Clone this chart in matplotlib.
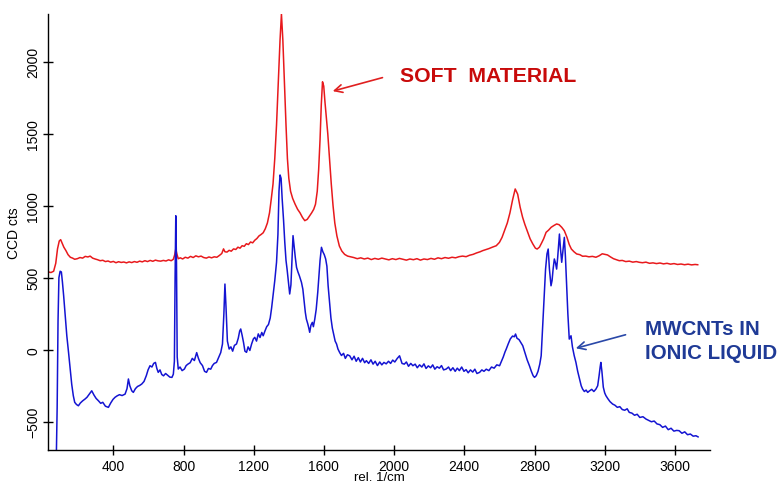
#!/usr/bin/env python3
"""Raman spectra: soft material vs MWCNTs in ionic liquid."""

import matplotlib
matplotlib.use("Agg")
import matplotlib.pyplot as plt

plt.rcParams["font.family"] = ["Liberation Sans", "DejaVu Sans"]

# soft material (red trace)
RED_X = [30, 45, 60, 72, 82, 92, 100, 108, 118, 130, 142, 155, 168, 180, 195, 210, 225, 240, 255, 268,
         282, 296, 310, 325, 340, 355, 370, 385, 400, 415, 430, 445, 460, 475, 490, 505, 520, 535, 550, 565,
         580, 595, 610, 625, 640, 655, 670, 685, 700, 715, 730, 742, 750, 756, 762, 770, 782, 795, 810, 825,
         840, 855, 870, 885, 900, 915, 930, 945, 960, 975, 990, 1005, 1018, 1028, 1036, 1048, 1060, 1072, 1085, 1098,
         1110, 1122, 1134, 1146, 1158, 1170, 1182, 1194, 1206, 1218, 1230, 1242, 1254, 1266, 1278, 1290, 1300, 1310, 1320, 1330,
         1340, 1350, 1358, 1366, 1375, 1384, 1392, 1400, 1410, 1422, 1436, 1450, 1464, 1478, 1491, 1505, 1518, 1530, 1542, 1552,
         1562, 1570, 1578, 1585, 1592, 1599, 1606, 1614, 1622, 1632, 1642, 1652, 1662, 1674, 1688, 1702, 1718, 1735, 1752, 1770,
         1790, 1810, 1830, 1850, 1870, 1890, 1910, 1930, 1950, 1970, 1990, 2010, 2030, 2050, 2070, 2090, 2110, 2130, 2150, 2170,
         2190, 2210, 2230, 2250, 2270, 2290, 2310, 2330, 2350, 2370, 2390, 2410, 2430, 2450, 2470, 2490, 2505, 2520, 2540, 2560,
         2582, 2600, 2615, 2629, 2645, 2660, 2675, 2690, 2704, 2718, 2732, 2745, 2760, 2775, 2790, 2805, 2815, 2828, 2840, 2852,
         2866, 2880, 2895, 2910, 2926, 2940, 2955, 2970, 2985, 2998, 3010, 3025, 3040, 3058, 3074, 3092, 3110, 3130, 3150, 3168,
         3186, 3200, 3216, 3232, 3250, 3266, 3283, 3300, 3320, 3340, 3360, 3380, 3397, 3415, 3435, 3455, 3475, 3495, 3515, 3535,
         3555, 3575, 3595, 3615, 3635, 3655, 3675, 3695, 3715, 3730]
RED_Y = [540, 536, 545, 600, 700, 755, 764, 740, 712, 688, 660, 642, 636, 628, 632, 640, 636, 648, 644, 650,
         636, 630, 625, 618, 621, 612, 616, 608, 613, 604, 611, 606, 609, 603, 610, 605, 612, 607, 615, 610,
         618, 612, 620, 614, 622, 617, 615, 620, 616, 624, 618, 628, 660, 700, 665, 632, 638, 630, 642, 636,
         648, 640, 652, 645, 650, 640, 636, 644, 638, 645, 642, 655, 668, 700, 680, 678, 690, 684, 700, 696,
         712, 705, 722, 718, 736, 730, 748, 742, 760, 772, 790, 800, 812, 840, 880, 950, 1046, 1150, 1328, 1560,
         1850, 2150, 2330, 2150, 1850, 1560, 1328, 1190, 1100, 1050, 1010, 975, 950, 918, 896, 905, 928, 950, 975, 1010,
         1100, 1250, 1460, 1700, 1860, 1830, 1720, 1610, 1500, 1320, 1150, 1000, 880, 790, 720, 685, 662, 650, 645, 640,
         632, 638, 630, 636, 626, 634, 628, 636, 630, 624, 632, 626, 634, 628, 622, 630, 625, 632, 622, 630,
         626, 634, 628, 638, 632, 640, 635, 642, 638, 646, 650, 646, 656, 662, 672, 680, 688, 694, 702, 712,
         722, 745, 780, 826, 880, 950, 1040, 1116, 1080, 990, 920, 870, 820, 770, 735, 705, 699, 712, 740, 770,
         815, 830, 850, 862, 873, 868, 850, 826, 780, 730, 699, 680, 665, 660, 649, 650, 645, 648, 642, 652,
         666, 662, 658, 645, 632, 625, 618, 620, 612, 615, 608, 612, 607, 604, 608, 600, 603, 598, 602, 596,
         600, 594, 598, 592, 595, 590, 594, 589, 592, 590]

# MWCNTs in ionic liquid (blue trace)
BLUE_X = [75, 80, 85, 90, 97, 104, 110, 117, 125, 135, 145, 154, 163, 172, 180, 190, 201, 212, 225, 239,
          250, 262, 277, 290, 302, 315, 328, 340, 355, 372, 385, 398, 410, 422, 435, 450, 467, 478, 486, 494,
          505, 514, 526, 538, 550, 562, 575, 588, 598, 609, 620, 630, 640, 648, 656, 666, 676, 686, 698, 710,
          722, 734, 742, 748, 752, 756, 760, 764, 770, 780, 792, 805, 815, 825, 838, 850, 862, 875, 885, 895,
          908, 920, 931, 942, 955, 965, 975, 988, 998, 1012, 1022, 1030, 1036, 1042, 1050, 1060, 1070, 1080, 1090, 1102,
          1112, 1120, 1126, 1134, 1142, 1150, 1159, 1168, 1178, 1188, 1198, 1206, 1216, 1226, 1236, 1246, 1254, 1264, 1274, 1284,
          1294, 1302, 1310, 1320, 1330, 1338, 1344, 1350, 1356, 1362, 1370, 1377, 1384, 1390, 1397, 1405, 1412, 1418, 1424, 1430,
          1437, 1444, 1452, 1460, 1472, 1480, 1488, 1494, 1500, 1508, 1514, 1519, 1526, 1534, 1540, 1548, 1556, 1565, 1572, 1578,
          1586, 1594, 1602, 1610, 1617, 1624, 1632, 1640, 1648, 1655, 1664, 1672, 1680, 1690, 1700, 1712, 1722, 1734, 1747, 1760,
          1772, 1784, 1796, 1808, 1820, 1832, 1842, 1855, 1868, 1880, 1892, 1905, 1918, 1930, 1942, 1955, 1968, 1980, 1992, 2004,
          2018, 2031, 2045, 2058, 2070, 2082, 2095, 2107, 2120, 2132, 2145, 2158, 2170, 2182, 2195, 2208, 2220, 2232, 2245, 2258,
          2270, 2282, 2297, 2310, 2322, 2335, 2348, 2360, 2372, 2385, 2398, 2410, 2422, 2435, 2448, 2460, 2472, 2487, 2500, 2512,
          2525, 2540, 2555, 2570, 2585, 2601, 2612, 2622, 2632, 2639, 2650, 2662, 2675, 2685, 2692, 2700, 2712, 2722, 2733, 2745,
          2758, 2771, 2782, 2792, 2800, 2810, 2820, 2830, 2838, 2846, 2852, 2856, 2863, 2871, 2878, 2885, 2890, 2894, 2900, 2906,
          2913, 2920, 2926, 2932, 2937, 2942, 2948, 2955, 2962, 2970, 2976, 2983, 2990, 2998, 3008, 3016, 3026, 3036, 3046, 3056,
          3066, 3074, 3084, 3094, 3103, 3114, 3126, 3138, 3150, 3160, 3168, 3174, 3178, 3184, 3192, 3200, 3207, 3218, 3230, 3245,
          3258, 3272, 3286, 3300, 3314, 3328, 3340, 3355, 3370, 3385, 3400, 3418, 3435, 3450, 3466, 3482, 3498, 3514, 3530, 3546,
          3562, 3578, 3594, 3610, 3624, 3640, 3656, 3672, 3688, 3704, 3720, 3732]
BLUE_Y = [-760, -400, 200, 500, 545, 540, 470, 375, 250, 97, -20, -134, -240, -319, -365, -380, -389, -370, -355, -342,
          -330, -310, -285, -315, -338, -354, -372, -365, -392, -400, -370, -345, -330, -320, -312, -318, -308, -270, -203, -250,
          -285, -296, -270, -255, -248, -238, -220, -180, -140, -111, -120, -95, -88, -130, -157, -140, -172, -181, -165, -178,
          -190, -192, -170, -80, 500, 930, 600, -50, -134, -120, -145, -134, -110, -100, -90, -60, -75, -20, -60, -90,
          -110, -150, -157, -130, -135, -110, -95, -88, -60, -20, 40, 250, 456, 300, 60, 5, 20, -10, 30, 40,
          80, 130, 144, 100, 50, -10, -18, 20, -5, 40, 75, 86, 60, 110, 85, 120, 97, 130, 160, 175,
          220, 290, 375, 480, 607, 800, 1100, 1213, 1190, 1050, 900, 746, 620, 560, 480, 387, 450, 620, 792, 720,
          640, 572, 540, 514, 468, 420, 330, 260, 213, 180, 150, 121, 170, 190, 160, 213, 280, 400, 520, 620,
          711, 680, 660, 630, 580, 444, 330, 220, 150, 110, 60, 40, 5, -20, -40, -25, -60, -35, -42, -70,
          -45, -80, -55, -85, -60, -90, -76, -95, -70, -100, -80, -110, -85, -105, -88, -98, -80, -95, -72, -85,
          -60, -42, -95, -100, -85, -115, -95, -111, -100, -125, -105, -120, -98, -130, -112, -125, -105, -135, -118, -128,
          -110, -140, -134, -120, -145, -125, -150, -128, -145, -120, -150, -138, -160, -140, -155, -135, -165, -157, -140, -150,
          -135, -145, -120, -128, -105, -111, -80, -50, -15, 5, 40, 75, 95, 90, 109, 80, 70, 50, 28, -20,
          -70, -111, -150, -180, -192, -180, -150, -100, -42, 150, 300, 375, 560, 665, 699, 560, 491, 444, 480, 560,
          630, 600, 560, 640, 720, 803, 700, 607, 690, 780, 650, 444, 250, 74, 97, 20, -40, -88, -150, -200,
          -250, -273, -290, -280, -296, -285, -275, -290, -273, -250, -180, -120, -88, -150, -260, -300, -319, -340, -360, -377,
          -385, -400, -395, -415, -420, -410, -435, -440, -455, -448, -470, -465, -481, -490, -500, -495, -515, -520, -539, -530,
          -555, -545, -565, -560, -562, -580, -570, -590, -585, -600, -597, -605]

X_TICKS = [400, 800, 1200, 1600, 2000, 2400, 2800, 3200, 3600]
Y_TICKS = [-500, 0, 500, 1000, 1500, 2000]


def main() -> None:
    fig = plt.figure(figsize=(7.81, 4.85), dpi=100)
    ax = fig.add_axes([0.0615, 0.0707, 0.8476, 0.8985])

    ax.plot(RED_X, RED_Y, color="#e8191c", lw=1.1)
    ax.plot(BLUE_X, BLUE_Y, color="#1414d2", lw=1.1)

    ax.set_xlim(28, 3800)
    ax.set_ylim(-694, 2331)
    ax.set_xticks(X_TICKS)
    ax.set_yticks(Y_TICKS)
    for lab in ax.get_yticklabels():
        lab.set_rotation(90)
        lab.set_va("center")
    ax.tick_params(direction="inout", length=7, width=1.0, labelsize=10, pad=3)
    ax.tick_params(axis="y", pad=2)

    for side in ("top", "right"):
        ax.spines[side].set_visible(False)
    for side in ("left", "bottom"):
        ax.spines[side].set_linewidth(1.0)

    ax.set_ylabel("CCD cts", fontsize=10, labelpad=4)
    ax.set_xlabel("rel. 1/cm", fontsize=9.5, labelpad=-1)

    # annotations
    ax.annotate("", xy=(1635, 1790), xytext=(1949, 1894),
                arrowprops=dict(arrowstyle="->", color="#e02020", lw=1.2,
                                mutation_scale=14))
    ax.text(2034, 1901, "SOFT  MATERIAL", color="#c80a0a", fontsize=15.3,
            fontweight="bold", ha="left", va="center")

    ax.annotate("", xy=(3020, 5), xytext=(3334, 109),
                arrowprops=dict(arrowstyle="->", color="#2a48a8", lw=1.2,
                                mutation_scale=14))
    ax.text(3431, 144, "MWCNTs IN", color="#1f3a96", fontsize=14.8,
            fontweight="bold", ha="left", va="center")
    ax.text(3431, -16, "IONIC LIQUID", color="#1f3a96", fontsize=14.8,
            fontweight="bold", ha="left", va="center")

    fig.savefig("out.png", dpi=100)
    plt.close(fig)


if __name__ == "__main__":
    main()
